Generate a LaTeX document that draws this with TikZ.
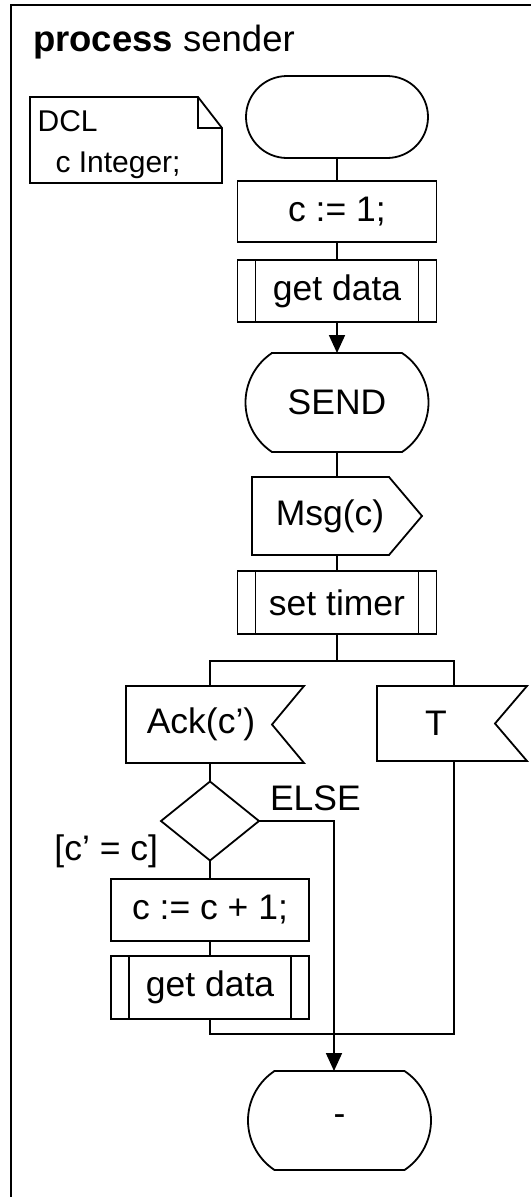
\documentclass[tikz,border=0pt]{standalone}
\usepackage{fontspec}
\setmainfont{Liberation Sans}
\usetikzlibrary{arrows.meta}
\newcommand\labelsize{\fontsize{35.5pt}{43pt}\selectfont}
\newcommand\titlesize{\fontsize{36.5pt}{43pt}\selectfont}
\newcommand\notesize{\fontsize{30pt}{36pt}\selectfont}

\begin{document}
\begin{tikzpicture}[x=1pt, y=-1pt,
  every node/.style={inner sep=0pt, outer sep=0pt, font=\labelsize},
  dims/.style 2 args={minimum width=#1pt, minimum height=#2pt},
  sdlline/.style={line width=1.8pt},
  task/.style={draw, sdlline},
  proc/.style={draw, sdlline, path picture={
      \draw[sdlline]
        ([xshift=18pt]path picture bounding box.north west) -- ([xshift=18pt]path picture bounding box.south west)
        ([xshift=-18pt]path picture bounding box.north east) -- ([xshift=-18pt]path picture bounding box.south east);}},
  terminal/.style={draw, sdlline, rounded corners=41pt},
  conn/.style={sdlline},
  flow/.style={sdlline, -{Triangle[length=18pt, width=16pt]}},
  frameline/.style={line width=2.5pt}
]
\useasboundingbox (0,0) rectangle (531,1197);

% process frame
\draw[frameline] (11,1197) -- (11,5) -- (531,5);
\node[anchor=base west, font=\titlesize] (title) at (33,51.5) {\textbf{process} sender};

% declaration note with folded corner
\node[dims={192}{86}] (dcl) at (126,140) {};
\draw[sdlline] (dcl.north west) -- ([xshift=-24pt]dcl.north east) -- ([yshift=-31pt]dcl.north east)
  -- (dcl.south east) -- (dcl.south west) -- cycle;
\draw[sdlline] ([xshift=-24pt]dcl.north east) -- ([xshift=-24pt, yshift=-31pt]dcl.north east)
  -- ([yshift=-31pt]dcl.north east);
\node[anchor=base west, font=\notesize] (dclhead) at (37.6,131.7) {DCL};
\node[anchor=base west, font=\notesize] (dclvar) at (55.5,172) {c Integer;};

% main column
\node[terminal, dims={182}{82}] (start) at (337,117) {};
\node[task, dims={199}{61}] (init) at (337,211.5) {c := 1;};
\node[proc, dims={199}{62}] (get1) at (337,291) {get data};

\node[dims={183}{99}] (send) at (337,402.5) {SEND};
\draw[sdlline] ([xshift=-65pt]send.north) -- ([xshift=65pt]send.north)
  arc[start angle=-56.33, end angle=56.33, radius=59.48]
  -- ([xshift=-65pt]send.south)
  arc[start angle=123.67, end angle=236.33, radius=59.48] -- cycle;

\node[dims={170}{78}] (msg) at (337,516) {\hspace*{-14pt}Msg(c)};
\draw[sdlline] (msg.north west) -- ([xshift=-33pt]msg.north east) -- (msg.east)
  -- ([xshift=-33pt]msg.south east) -- (msg.south west) -- cycle;

\node[proc, dims={199}{63}] (timer) at (337,602.5) {set timer};

% input branches
\node[dims={178}{77}] (ack) at (215,724.5) {\hspace*{-28pt}Ack(c’)};
\draw[sdlline] (ack.north west) -- (ack.north east) -- ([xshift=-32pt]ack.east)
  -- (ack.south east) -- (ack.south west) -- cycle;

\node[dims={150}{75}] (tsig) at (452,723.5) {\hspace*{-32pt}T};
\draw[sdlline] (tsig.north west) -- (tsig.north east) -- ([xshift=-32pt]tsig.east)
  -- (tsig.south east) -- (tsig.south west) -- cycle;

\node[dims={98}{79}] (dec) at (210,821) {};
\draw[sdlline] (dec.north) -- (dec.east) -- (dec.south) -- (dec.west) -- cycle;
\node[anchor=base west] (elselbl) at (270,810.7) {ELSE};
\node[anchor=base east] (guard) at (158,860) {[c’ = c]};

\node[task, dims={198}{62}] (incr) at (210,910) {c := c + 1;};
\node[proc, dims={198}{63}] (get2) at (210,987.5) {get data};

\node[dims={181}{99}] (stop) at (339.5,1120.5) {-};
\draw[sdlline] ([xshift=-65pt]stop.north) -- ([xshift=65pt]stop.north)
  arc[start angle=-56.33, end angle=56.33, radius=59.48]
  -- ([xshift=-65pt]stop.south)
  arc[start angle=123.67, end angle=236.33, radius=59.48] -- cycle;

% connectors
\draw[conn] (start.south) -- (init.north);
\draw[conn] (init.south) -- (get1.north);
\draw[flow] (get1.south) -- (send.north);
\draw[conn] (send.south) -- (msg.north);
\draw[conn] (msg.south) -- (timer.north);
\coordinate (forkL) at (210,661);
\coordinate (forkR) at (454,661);
\draw[conn] (timer.south) -- (timer.south |- forkL);
\draw[conn] (forkL |- ack.north) -- (forkL) -- (forkR) -- (forkR |- tsig.north);
\draw[conn] (ack.south -| dec.north) -- (dec.north);
\draw[conn] (dec.south) -- (incr.north);
\draw[conn] (incr.south) -- (get2.north);
\coordinate (joinL) at (210,1034);
\draw[conn] (get2.south) -- (joinL) -- (joinL -| forkR) -- (forkR |- tsig.south);
\coordinate (elsebend) at (334,821);
\draw[flow] (dec.east) -- (elsebend) -- (elsebend |- stop.north);
\end{tikzpicture}
\end{document}
